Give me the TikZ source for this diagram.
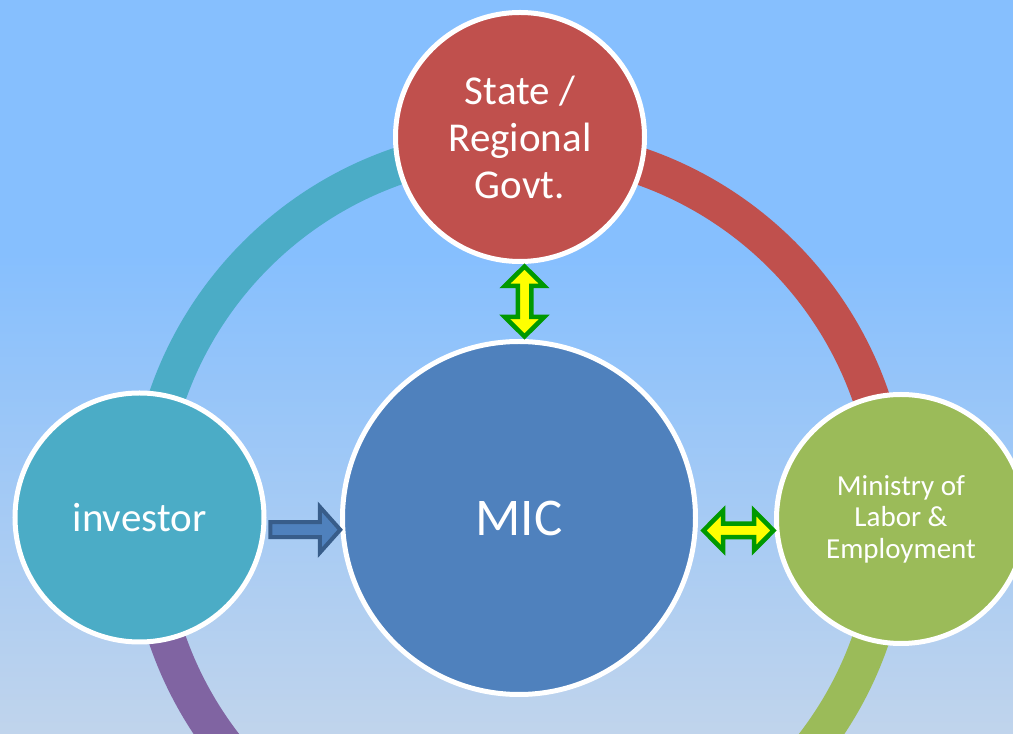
\documentclass[tikz,border=0pt]{standalone}
\usepackage{fontspec}
\setmainfont{Carlito}
\usetikzlibrary{calc}
\definecolor{bgtop}{RGB}{134,191,254}
\definecolor{bgbot}{RGB}{192,212,236}
\definecolor{cred}{RGB}{192,80,77}
\definecolor{cblue}{RGB}{79,129,189}
\definecolor{cteal}{RGB}{75,172,198}
\definecolor{cgreen}{RGB}{155,187,89}
\definecolor{cpurple}{RGB}{128,100,162}
\definecolor{dblue}{RGB}{56,93,138}
\definecolor{agreen}{RGB}{0,153,0}
\definecolor{ayellow}{RGB}{255,255,0}
\begin{document}
\begin{tikzpicture}[x=1pt,y=1pt,
  bubble/.style={circle, draw=white, line width=5pt, inner sep=0pt, text=white, align=center},
  ringseg/.style={line width=37pt},
  dbl/.style={draw=agreen, fill=ayellow, line width=4.5pt, line join=miter},
  blk/.style={draw=dblue, fill=cblue, line width=4pt, line join=miter}]
\useasboundingbox (0,0) rectangle (1013,734);
\clip (0,0) rectangle (1013,734);
\fill[bgtop] (0,480) rectangle (1013,734);
\shade[top color=bgtop, bottom color=bgbot] (0,0) rectangle (1013,481);
\coordinate (c) at (519,216);
% ring
\draw[ringseg, cred] ([shift={(0:372)}]c) arc (0:90:372);
\draw[ringseg, cteal] ([shift={(90:372)}]c) arc (90:180:372);
\draw[ringseg, cpurple] ([shift={(180:372)}]c) arc (180:270:372);
\draw[ringseg, cgreen] ([shift={(270:372)}]c) arc (270:360:372);
% circles
\node[bubble, fill=cblue, minimum size=353pt, font=\fontsize{53}{60}\selectfont] (mic) at (c) {MIC};
\node[bubble, fill=cred, minimum size=249pt, font=\fontsize{41}{47}\selectfont] (state) at (520,597) {State /\\Regional\\Govt.};
\node[bubble, fill=cteal, minimum size=249pt, font=\fontsize{41}{46}\selectfont] (inv) at (139.5,216.5) {investor};
\node[bubble, fill=cgreen, minimum size=249pt, font=\fontsize{29}{31.5}\selectfont] (min) at (901,215) {Ministry of\\Labor \&\\Employment};
% vertical double arrow
\coordinate (v) at ($(state.south)!0.5!(mic.north)+(5,0)$);
\begin{scope}[shift={(v)}]
\draw[dbl] (0,35) -- (19.75,15.5) -- (6.75,15.5) -- (6.75,-15.5) -- (19.75,-15.5) -- (0,-35)
  -- (-19.75,-15.5) -- (-6.75,-15.5) -- (-6.75,15.5) -- (-19.75,15.5) -- cycle;
\end{scope}
% horizontal double arrow
\coordinate (h) at ($(mic.east)!0.5!(min.west)+(2.5,-12)$);
\begin{scope}[shift={(h)}]
\draw[dbl] (35,0) -- (15.5,19.75) -- (15.5,6.75) -- (-15.5,6.75) -- (-15.5,19.75) -- (-35,0)
  -- (-15.5,-19.75) -- (-15.5,-6.75) -- (15.5,-6.75) -- (15.5,-19.75) -- cycle;
\end{scope}
% blue block arrow
\coordinate (b) at ($(inv.east)!0.5!(mic.west)+(2.5,-12)$);
\begin{scope}[shift={(b)}]
\draw[blk] (-35.5,7.5) -- (14,7.5) -- (14,23) -- (34.5,0) -- (14,-23) -- (14,-7.5) -- (-35.5,-7.5) -- cycle;
\end{scope}
\end{tikzpicture}
\end{document}
